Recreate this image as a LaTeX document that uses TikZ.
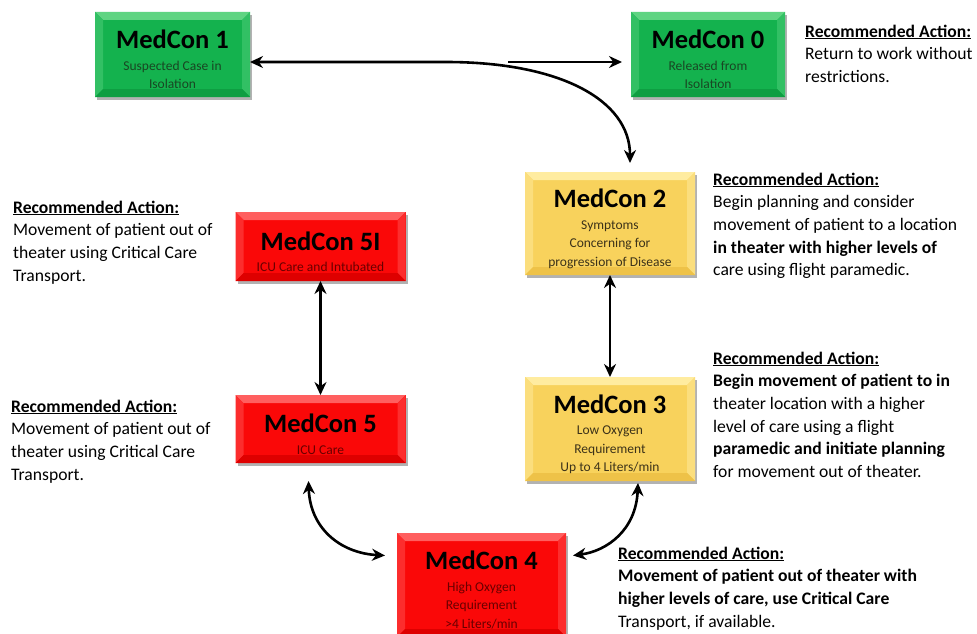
\documentclass[tikz,border=0pt]{standalone}
\usepackage{fontspec}
\setmainfont{Carlito}
\usetikzlibrary{arrows.meta,shadows}
\definecolor{gbase}{RGB}{20,178,78}
\definecolor{gtop}{RGB}{95,212,130}
\definecolor{gside}{RGB}{50,192,100}
\definecolor{gbot}{RGB}{14,158,66}
\definecolor{gtxt}{RGB}{25,70,35}
\definecolor{rbase}{RGB}{250,8,8}
\definecolor{rtop}{RGB}{255,95,95}
\definecolor{rside}{RGB}{252,45,45}
\definecolor{rbot}{RGB}{222,0,0}
\definecolor{rtxt}{RGB}{105,0,0}
\definecolor{ybase}{RGB}{248,210,92}
\definecolor{ytop}{RGB}{255,236,160}
\definecolor{yside}{RGB}{251,222,125}
\definecolor{ybot}{RGB}{238,194,72}
\definecolor{ytxt}{RGB}{60,50,25}
\newcommand\mctitle{\fontsize{26.5}{28}\selectfont\bfseries\color{black}\rule{0pt}{29pt}}
\newcommand\rechead{\underline{\textbf{Recommended Action:}}}
\tikzset{
  bev/.style n args={4}{fill=#1, path picture={
    \coordinate (@nw) at (path picture bounding box.north west);
    \coordinate (@ne) at (path picture bounding box.north east);
    \coordinate (@sw) at (path picture bounding box.south west);
    \coordinate (@se) at (path picture bounding box.south east);
    \fill[#2] (@nw) -- (@ne) -- ([xshift=-8pt,yshift=-8pt]@ne) -- ([xshift=8pt,yshift=-8pt]@nw) -- cycle;
    \fill[#3] (@nw) -- ([xshift=8pt,yshift=-8pt]@nw) -- ([xshift=8pt,yshift=8pt]@sw) -- (@sw) -- cycle;
    \fill[#3] (@ne) -- ([xshift=-8pt,yshift=-8pt]@ne) -- ([xshift=-8pt,yshift=8pt]@se) -- (@se) -- cycle;
    \fill[#4] (@sw) -- (@se) -- ([xshift=-8pt,yshift=8pt]@se) -- ([xshift=8pt,yshift=8pt]@sw) -- cycle;
  }},
  mcbox/.style={rectangle, inner sep=0pt, outer sep=0pt, align=center,
    font=\fontsize{13.5}{18.5}\selectfont,
    drop shadow={shadow xshift=2pt, shadow yshift=-3pt, opacity=0.3, fill=black}},
  greenbox/.style={mcbox, bev={gbase}{gtop}{gside}{gbot}, text=gtxt},
  redbox/.style={mcbox, bev={rbase}{rtop}{rside}{rbot}, text=rtxt},
  yelbox/.style={mcbox, bev={ybase}{ytop}{yside}{ybot}, text=ytxt},
  rec/.style={anchor=north west, align=left, inner sep=0pt, text=black,
    font=\fontsize{17.6}{22.7}\selectfont},
  tipstyle/.style={line width=2.6pt, black},
  bothtip/.style={tipstyle, {Stealth[length=13pt,width=12pt]}-{Stealth[length=13pt,width=12pt]}},
  onetip/.style={tipstyle, -{Stealth[length=13pt,width=12pt]}},
}
\begin{document}
\begin{tikzpicture}[x=1pt,y=-1pt]
\useasboundingbox (0,0) rectangle (977,634);
\fill[white] (0,0) rectangle (977,634);

% boxes
\node[greenbox, minimum width=155pt, minimum height=85pt] (m1) at (172.5,54.5)
  {{\mctitle MedCon 1}\\[3pt] Suspected Case in\\ Isolation};
\node[greenbox, minimum width=154pt, minimum height=85pt] (m0) at (708,54.5)
  {{\mctitle MedCon 0}\\[3pt] Released from\\ Isolation};
\node[yelbox, minimum width=170pt, minimum height=103pt] (m2) at (610,223.5)
  {{\mctitle MedCon 2}\\[3pt] Symptoms\\ Concerning for\\ progression of Disease};
\node[redbox, minimum width=170pt, minimum height=69pt] (m5i) at (320.5,246.5)
  {{\mctitle MedCon 5I}\\[3pt] ICU Care and Intubated};
\node[redbox, minimum width=170pt, minimum height=68pt] (m5) at (320.5,429)
  {{\mctitle MedCon 5}\\[3pt] ICU Care};
\node[yelbox, minimum width=170pt, minimum height=104pt] (m3) at (610,429)
  {{\mctitle MedCon 3}\\[3pt] Low Oxygen\\ Requirement\\ Up to 4 Liters/min};
\node[redbox, minimum width=169pt, minimum height=104pt] (m4) at (481.5,585)
  {{\mctitle MedCon 4}\\[3pt] High Oxygen\\ Requirement\\ >4 Liters/min};

% recommended actions
\node[rec] (r0) at (805,24.5) {\rechead\\ Return to work without\\ restrictions.};
\node[rec] (r2) at (713,172.5) {\rechead\\ Begin planning and consider\\ movement of patient to a location\\ \textbf{in theater with higher levels of}\\ care using flight paramedic.};
\node[rec] (r5i) at (13,200.5) {\rechead\\ Movement of patient out of\\ theater using Critical Care\\ Transport.};
\node[rec] (r5) at (11,399.5) {\rechead\\ Movement of patient out of\\ theater using Critical Care\\ Transport.};
\node[rec] (r3) at (713,351.5) {\rechead\\ \textbf{Begin movement of patient to in}\\ theater location with a higher\\ level of care using a flight\\ \textbf{paramedic and initiate planning}\\ for movement out of theater.};
\node[rec] (r4) at (618,546.5) {\rechead\\ \textbf{Movement of patient out of theater with}\\ \textbf{higher levels of care, use Critical Care}\\ Transport, if available.};

% connectors
\coordinate (j1) at (446,62);
\coordinate (j2) at (508,62);
\coordinate (m2in) at ([xshift=20pt,yshift=9pt]m2.north);
\draw[bothtip] ([yshift=-7.5pt]m1.east) -- (j1) .. controls (560,62) and (630,100) .. (m2in);
\draw[onetip, shorten >=9pt] (j2) -- ([yshift=-7.5pt]m0.west);
\draw[bothtip] (m5i.south) -- (m5.north);
\draw[bothtip] (m2.south) -- (m3.north);
\draw[bothtip] ([xshift=-12pt,yshift=-18pt]m5.south) .. controls (310,528) and (340,553) .. ([xshift=-12pt,yshift=29.5pt]m4.west);
\draw[bothtip] ([xshift=28pt,yshift=-2pt]m3.south) .. controls (636,530) and (607,551) .. ([xshift=7pt,yshift=29.5pt]m4.east);
\end{tikzpicture}
\end{document}
